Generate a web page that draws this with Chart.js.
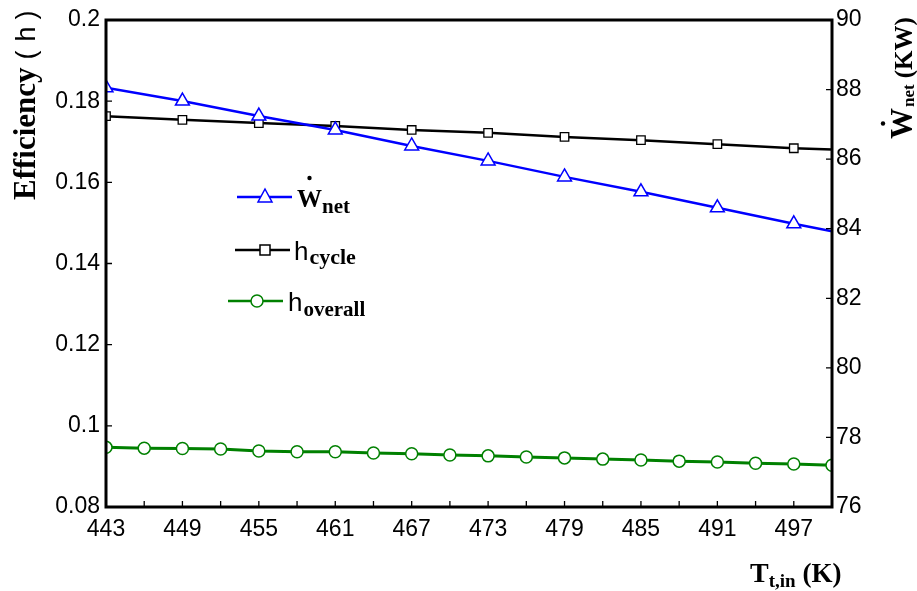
<!DOCTYPE html>
<html>
<head>
<meta charset="utf-8">
<script src="https://cdn.jsdelivr.net/npm/chart.js@4.4.1/dist/chart.umd.min.js"></script>
<style>
  body { margin: 0; background: #fff; }
  #wrap { width: 917px; height: 591px; }
</style>
</head>
<body>
<div id="wrap"><canvas id="chart" width="917" height="591"></canvas></div>
<script>
// temperature at the marked points (every 6 K, plus the line end at 500 K)
const tempMarked = [443, 449, 455, 461, 467, 473, 479, 485, 491, 497, 500];
const wNet = [88.05, 87.67, 87.24, 86.84, 86.38, 85.95, 85.49, 85.06, 84.60, 84.14, 83.93];
const etaCycle = [0.1763, 0.1754, 0.1746, 0.1739, 0.1729, 0.1722, 0.1712, 0.1704, 0.1694, 0.1684, 0.1681];

// overall efficiency is marked every 3 K
const tempOverall = [443, 446, 449, 452, 455, 458, 461, 464, 467, 470, 473, 476, 479, 482, 485, 488, 491, 494, 497, 500];
const etaOverall = [0.0947, 0.0945, 0.0944, 0.0943, 0.0938, 0.0936, 0.0936, 0.0933, 0.0931, 0.0928,
                    0.0926, 0.0923, 0.0921, 0.0918, 0.0916, 0.0913, 0.0911, 0.0908, 0.0906, 0.0903];

const xLabels = [443, 449, 455, 461, 467, 473, 479, 485, 491, 497];

const SERIF = '"Liberation Serif", "Times New Roman", serif';
const SANS = '"Liberation Sans", Arial, sans-serif';

function pts(xs, ys) {
    return xs.map((x, i) => ({ x: x, y: ys[i] }));
}

// no marker on the last point (line runs to the edge)
function markerSizes(xs, r) {
    return xs.map(x => (x === 500 ? 0 : r));
}

// draw a row of text pieces with different fonts / offsets
function drawRuns(ctx, runs, x, y) {
    let cx = x;
    runs.forEach(r => {
        ctx.font = r.font;
        ctx.fillText(r.text, cx, y + (r.dy || 0));
        cx += ctx.measureText(r.text).width + (r.gap || 0);
    });
    return cx;
}

function drawDot(ctx, x, y) {
    ctx.beginPath();
    ctx.arc(x, y, 2.2, 0, Math.PI * 2);
    ctx.fill();
}

const decorPlugin = {
    id: 'decor',
    afterDraw(chart) {
        const ctx = chart.ctx;
        const a = chart.chartArea;
        const sx = chart.scales.x, sy = chart.scales.y, sy2 = chart.scales.y2;
        ctx.save();

        // frame
        ctx.strokeStyle = '#000';
        ctx.lineWidth = 3;
        ctx.strokeRect(a.left, a.top, a.right - a.left, a.bottom - a.top);

        // inward ticks
        ctx.lineWidth = 1.3;
        ctx.beginPath();
        sx.ticks.forEach(t => {
            const px = sx.getPixelForValue(t.value);
            ctx.moveTo(px, a.bottom);
            ctx.lineTo(px, a.bottom - 6);
        });
        sy.ticks.forEach(t => {
            const py = sy.getPixelForValue(t.value);
            ctx.moveTo(a.left, py);
            ctx.lineTo(a.left + 6, py);
        });
        sy2.ticks.forEach(t => {
            const py = sy2.getPixelForValue(t.value);
            ctx.moveTo(a.right, py);
            ctx.lineTo(a.right - 6, py);
        });
        ctx.stroke();

        ctx.fillStyle = '#000';
        ctx.textBaseline = 'alphabetic';
        ctx.textAlign = 'left';

        // left axis title
        ctx.save();
        ctx.translate(35, 200);
        ctx.rotate(-Math.PI / 2);
        drawRuns(ctx, [
            { text: 'Efficiency', font: 'bold 31px ' + SERIF, gap: 8 },
            { text: '(', font: '27px ' + SANS, gap: 9 },
            { text: 'h', font: '27px ' + SANS, gap: 7 },
            { text: ')', font: '27px ' + SANS }
        ], 0, 0);
        ctx.restore();

        // right axis title
        ctx.save();
        ctx.translate(912, 139);
        ctx.rotate(-Math.PI / 2);
        ctx.font = 'bold 31px ' + SERIF;
        const wW = ctx.measureText('W').width;
        drawDot(ctx, wW / 2, -29);
        drawRuns(ctx, [
            { text: 'W', font: 'bold 31px ' + SERIF, gap: 1 },
            { text: 'net', font: 'bold 17px ' + SERIF, dy: 2, gap: 6 },
            { text: '(KW)', font: 'bold 25px ' + SERIF }
        ], 0, 0);
        ctx.restore();

        // x axis title
        drawRuns(ctx, [
            { text: 'T', font: 'bold 28px ' + SERIF },
            { text: 't,in', font: 'bold 19px ' + SERIF, dy: 5, gap: 7 },
            { text: '(K)', font: 'bold 27px ' + SERIF }
        ], 750, 582);

        // legend
        const rows = [
            { y: 197, x0: 237, x1: 292, mx: 265, color: '#0000ff', style: 'triangle' },
            { y: 250, x0: 235, x1: 290, mx: 265, color: '#000000', style: 'rect' },
            { y: 301, x0: 228, x1: 283, mx: 257, color: '#008000', style: 'circle' }
        ];
        rows.forEach(r => {
            ctx.strokeStyle = r.color;
            ctx.lineWidth = 2.5;
            ctx.beginPath();
            ctx.moveTo(r.x0, r.y);
            ctx.lineTo(r.x1, r.y);
            ctx.stroke();
            ctx.fillStyle = '#fff';
            ctx.lineWidth = 1.5;
            ctx.beginPath();
            if (r.style === 'triangle') {
                ctx.moveTo(r.mx, r.y - 8);
                ctx.lineTo(r.mx + 7, r.y + 5);
                ctx.lineTo(r.mx - 7, r.y + 5);
                ctx.closePath();
            } else if (r.style === 'rect') {
                ctx.rect(r.mx - 5, r.y - 5, 10, 10);
            } else {
                ctx.arc(r.mx, r.y, 6, 0, Math.PI * 2);
            }
            ctx.fill();
            ctx.stroke();
        });

        ctx.fillStyle = '#000';
        ctx.font = 'bold 25px ' + SERIF;
        const lw = ctx.measureText('W').width;
        drawDot(ctx, 297 + lw / 2, 178);
        drawRuns(ctx, [
            { text: 'W', font: 'bold 25px ' + SERIF },
            { text: 'net', font: 'bold 21px ' + SERIF, dy: 6 }
        ], 297, 207);
        drawRuns(ctx, [
            { text: 'h', font: '26px ' + SANS, gap: 1 },
            { text: 'cycle', font: 'bold 22px ' + SERIF, dy: 4 }
        ], 294, 260);
        drawRuns(ctx, [
            { text: 'h', font: '26px ' + SANS, gap: 1 },
            { text: 'overall', font: 'bold 21px ' + SERIF, dy: 5 }
        ], 288, 311);

        ctx.restore();
    }
};

const hiddenGrid = { display: true, drawOnChartArea: false, drawTicks: false, color: 'rgba(0,0,0,0)' };

new Chart(document.getElementById('chart'), {
    type: 'line',
    data: {
        datasets: [
            {
                label: 'W net',
                data: pts(tempMarked, wNet),
                yAxisID: 'y2',
                borderColor: '#0000ff',
                borderWidth: 2.5,
                pointStyle: 'triangle',
                pointRadius: markerSizes(tempMarked, 8),
                pointBackgroundColor: '#fff',
                pointBorderColor: '#0000ff',
                pointBorderWidth: 1.5,
                tension: 0,
                clip: 0
            },
            {
                label: 'h cycle',
                data: pts(tempMarked, etaCycle),
                yAxisID: 'y',
                borderColor: '#000000',
                borderWidth: 2.5,
                pointStyle: 'rect',
                pointRadius: markerSizes(tempMarked, 6),
                pointBackgroundColor: '#fff',
                pointBorderColor: '#000',
                pointBorderWidth: 1.3,
                tension: 0,
                clip: 0
            },
            {
                label: 'h overall',
                data: pts(tempOverall, etaOverall),
                yAxisID: 'y',
                borderColor: '#008000',
                borderWidth: 3,
                pointStyle: 'circle',
                pointRadius: 6,
                pointBackgroundColor: '#fff',
                pointBorderColor: '#008000',
                pointBorderWidth: 1.5,
                tension: 0,
                clip: 0
            }
        ]
    },
    options: {
        responsive: false,
        animation: false,
        events: [],
        layout: { padding: { top: 20, left: 0, right: 0, bottom: 0 } },
        plugins: {
            legend: { display: false },
            tooltip: { enabled: false }
        },
        scales: {
            x: {
                type: 'linear',
                min: 443,
                max: 500,
                grid: hiddenGrid,
                border: { display: false },
                ticks: {
                    stepSize: 3,
                    autoSkip: false,
                    maxRotation: 0,
                    padding: 9,
                    color: '#000',
                    font: { family: SANS, size: 23 },
                    callback: v => (xLabels.includes(v) ? String(v) : '')
                },
                afterFit: s => { s.height = 84; }
            },
            y: {
                position: 'left',
                min: 0.08,
                max: 0.2,
                grid: hiddenGrid,
                border: { display: false },
                ticks: {
                    stepSize: 0.02,
                    padding: 6,
                    color: '#000',
                    font: { family: SANS, size: 23 },
                    callback: v => String(parseFloat(v.toFixed(2)))
                },
                afterFit: s => { s.width = 106; }
            },
            y2: {
                position: 'right',
                min: 76,
                max: 90,
                grid: hiddenGrid,
                border: { display: false },
                ticks: {
                    stepSize: 2,
                    padding: 4,
                    color: '#000',
                    font: { family: SANS, size: 23 }
                },
                afterFit: s => { s.width = 85; }
            }
        }
    },
    plugins: [decorPlugin]
});
</script>
</body>
</html>
